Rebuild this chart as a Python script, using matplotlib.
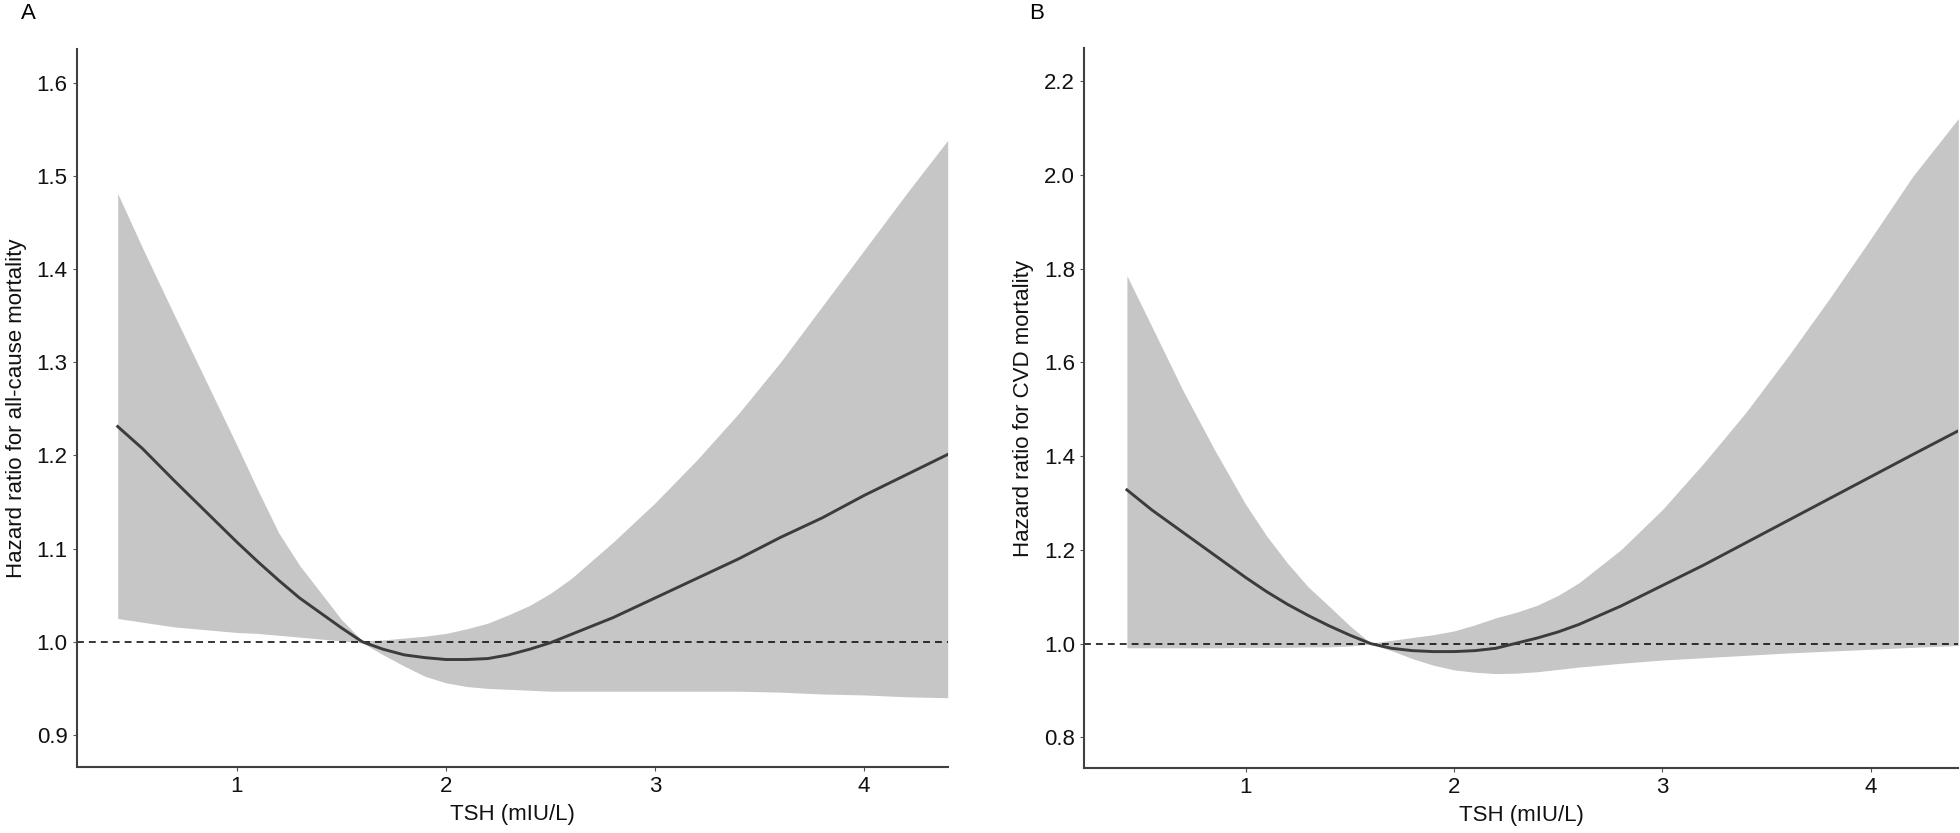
import matplotlib
matplotlib.use("Agg")
import matplotlib.pyplot as plt

# ---------------- data ----------------
tsh_a = [0.43, 0.55, 0.70, 0.85, 1.00, 1.10, 1.20, 1.30, 1.40, 1.50, 1.60, 1.70,
         1.80, 1.90, 2.00, 2.10, 2.20, 2.30, 2.40, 2.50, 2.60, 2.80, 3.00, 3.20,
         3.40, 3.60, 3.80, 4.00, 4.20, 4.40]
hr_a = [1.231, 1.207, 1.173, 1.140, 1.107, 1.086, 1.066, 1.047, 1.031, 1.015, 1.000, 0.992,
        0.986, 0.983, 0.981, 0.981, 0.982, 0.986, 0.992, 0.999, 1.008, 1.026, 1.047, 1.068,
        1.089, 1.112, 1.133, 1.157, 1.179, 1.201]
upper_a = [1.481, 1.422, 1.351, 1.281, 1.211, 1.163, 1.117, 1.082, 1.053, 1.024, 1.001, 1.002,
           1.004, 1.006, 1.009, 1.014, 1.020, 1.029, 1.039, 1.052, 1.068, 1.107, 1.149, 1.195,
           1.245, 1.300, 1.360, 1.420, 1.480, 1.538]
lower_a = [1.025, 1.021, 1.016, 1.013, 1.010, 1.009, 1.007, 1.005, 1.003, 1.001, 0.999, 0.986,
           0.974, 0.963, 0.956, 0.952, 0.950, 0.949, 0.948, 0.947, 0.947, 0.947, 0.947, 0.947,
           0.947, 0.946, 0.944, 0.943, 0.941, 0.940]

tsh_b = [0.43, 0.55, 0.70, 0.85, 1.00, 1.10, 1.20, 1.30, 1.40, 1.50, 1.60, 1.70,
         1.80, 1.90, 2.00, 2.10, 2.20, 2.30, 2.40, 2.50, 2.60, 2.80, 3.00, 3.20,
         3.40, 3.60, 3.80, 4.00, 4.20, 4.42]
hr_b = [1.328, 1.285, 1.237, 1.189, 1.141, 1.111, 1.084, 1.060, 1.038, 1.018, 1.000, 0.990,
        0.985, 0.983, 0.983, 0.985, 0.990, 1.001, 1.012, 1.025, 1.041, 1.080, 1.124, 1.168,
        1.215, 1.262, 1.309, 1.356, 1.403, 1.454]
upper_b = [1.785, 1.676, 1.539, 1.414, 1.297, 1.230, 1.172, 1.121, 1.080, 1.038, 1.001, 1.007,
           1.013, 1.019, 1.027, 1.040, 1.055, 1.067, 1.082, 1.103, 1.130, 1.200, 1.286, 1.386,
           1.493, 1.611, 1.735, 1.864, 1.996, 2.120]
lower_b = [0.991, 0.991, 0.991, 0.991, 0.992, 0.992, 0.992, 0.993, 0.993, 0.995, 0.999, 0.985,
           0.968, 0.954, 0.944, 0.939, 0.936, 0.937, 0.940, 0.945, 0.950, 0.958, 0.965, 0.970,
           0.975, 0.980, 0.984, 0.988, 0.992, 0.996]

xticks = [1, 2, 3, 4]
yticks_a = [0.9, 1.0, 1.1, 1.2, 1.3, 1.4, 1.5, 1.6]
yticks_b = [0.8, 1.0, 1.2, 1.4, 1.6, 1.8, 2.0, 2.2]
xlabel = "TSH (mIU/L)"
ylabel_a = "Hazard ratio for all-cause mortality"
ylabel_b = "Hazard ratio for CVD mortality"
panel_labels = ["A", "B"]

# ---------------- style ----------------
plt.rcParams['font.family'] = ['Liberation Sans', 'DejaVu Sans']
FS = 16
BAND = "#c6c6c6"
LINE = "#3c3c3c"
SPINE = "#404040"

W, H = 1960, 833
fig = plt.figure(figsize=(W / 100, H / 100), dpi=100)

def frac(x0, x1, ytop, ybot):
    return [x0 / W, 1 - ybot / H, (x1 - x0) / W, (ybot - ytop) / H]

ax_a = fig.add_axes(frac(76.7, 947.7, 49, 766.7))
ax_b = fig.add_axes(frac(1084, 1958.3, 48.3, 768.3))

panels = [
    (ax_a, tsh_a, hr_a, upper_a, lower_a, yticks_a, ylabel_a, (0.234, 4.40), (0.866, 1.636)),
    (ax_b, tsh_b, hr_b, upper_b, lower_b, yticks_b, ylabel_b, (0.224, 4.42), (0.734, 2.27)),
]

for ax, x, y, up, lo, yt, yl, xlim, ylim in panels:
    ax.fill_between(x, lo, up, color=BAND, linewidth=0, zorder=1)
    ax.axhline(1.0, color="black", linewidth=1.1, dashes=(4.5, 3.3), zorder=2)
    ax.plot(x, y, color=LINE, linewidth=2.1, zorder=3, solid_joinstyle="round")
    ax.set_xlim(*xlim)
    ax.set_ylim(*ylim)
    ax.set_xticks(xticks)
    ax.set_xticklabels([str(t) for t in xticks])
    ax.set_yticks(yt)
    ax.set_yticklabels(["{:.1f}".format(t) for t in yt])
    for s in ["top", "right"]:
        ax.spines[s].set_visible(False)
    for s in ["left", "bottom"]:
        ax.spines[s].set_color(SPINE)
        ax.spines[s].set_linewidth(1.5)
    ax.tick_params(axis="both", length=3, width=0.8, color="#555555",
                   labelsize=FS, labelcolor="#111111", pad=3.5)
    ax.set_xlabel(xlabel, fontsize=FS, color="#111111", labelpad=5)
    ax.set_ylabel(yl, fontsize=FS, color="#111111", labelpad=7)
    ax.set_facecolor("white")

fig.text(21 / W, 1 - 19 / H, panel_labels[0], fontsize=16, va="baseline", ha="left")
fig.text(1029 / W, 1 - 19 / H, panel_labels[1], fontsize=16, va="baseline", ha="left")

fig.savefig("out.png", dpi=100, facecolor="white")
